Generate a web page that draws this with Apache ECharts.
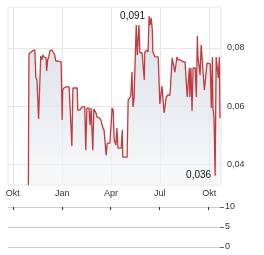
<!DOCTYPE html>
<html><head><meta charset="utf-8">
<script src="https://cdn.jsdelivr.net/npm/echarts@6/dist/echarts.min.js"></script>
<style>html,body{margin:0;padding:0;background:#fff}#c{width:264px;height:255px}</style>
</head><body><div id="c"></div>
<script>
const dates = ['2023-10-30','2023-10-31','2023-11-07','2023-11-11','2023-11-13','2023-11-15','2023-11-18','2023-11-20','2023-11-22','2023-11-24','2023-11-26','2023-11-28',
'2023-12-02','2023-12-03','2023-12-05','2023-12-07','2023-12-09','2023-12-13','2023-12-15','2023-12-18','2023-12-20','2023-12-24','2023-12-30',
'2024-01-01','2024-01-02','2024-01-04','2024-01-08','2024-01-14','2024-01-15','2024-01-17','2024-01-19','2024-01-21','2024-01-25','2024-01-29','2024-01-30',
'2024-02-03','2024-02-07','2024-02-12','2024-02-14','2024-02-16','2024-02-20','2024-02-22','2024-02-24','2024-02-27','2024-02-29',
'2024-03-04','2024-03-06','2024-03-10','2024-03-13','2024-03-15','2024-03-17','2024-03-19','2024-03-23','2024-03-25','2024-03-28','2024-03-30',
'2024-04-03','2024-04-05','2024-04-07','2024-04-10','2024-04-12','2024-04-14','2024-04-20','2024-04-22','2024-04-23','2024-04-27',
'2024-05-01','2024-05-03','2024-05-06','2024-05-08','2024-05-10','2024-05-12','2024-05-14','2024-05-18','2024-05-20','2024-05-23','2024-05-25','2024-05-29','2024-05-31',
'2024-06-02','2024-06-03','2024-06-07','2024-06-09','2024-06-11','2024-06-13','2024-06-15','2024-06-17','2024-06-18','2024-06-22','2024-06-28','2024-06-30',
'2024-07-01','2024-07-05','2024-07-09','2024-07-13','2024-07-16','2024-07-20','2024-07-24','2024-07-26','2024-07-29',
'2024-08-02','2024-08-04','2024-08-08','2024-08-13','2024-08-17','2024-08-19','2024-08-21','2024-08-23','2024-08-25','2024-08-26','2024-08-28','2024-08-30',
'2024-09-01','2024-09-05','2024-09-07','2024-09-09','2024-09-10','2024-09-12','2024-09-14','2024-09-16','2024-09-18','2024-09-20','2024-09-22','2024-09-25','2024-09-27','2024-09-29',
'2024-10-03','2024-10-05','2024-10-07','2024-10-08','2024-10-10','2024-10-12','2024-10-14','2024-10-16','2024-10-18','2024-10-20','2024-10-21'];
const prices = [0.0328,0.0779,0.0790,0.0793,0.0697,0.0690,0.0555,0.0555,0.0772,0.0759,0.0776,0.0769,
0.0766,0.0721,0.0759,0.0769,0.0790,0.0793,0.0786,0.0776,0.0755,0.0755,0.0752,
0.0552,0.0655,0.0662,0.0666,0.0666,0.0666,0.0672,0.0462,0.0662,0.0662,0.0662,0.0586,
0.0586,0.0597,0.0597,0.0448,0.0593,0.0593,0.0534,0.0593,0.0448,0.0590,
0.0576,0.0562,0.0559,0.0552,0.0538,0.0524,0.0517,0.0431,0.0472,0.0466,0.0472,
0.0593,0.0586,0.0483,0.0466,0.0524,0.0455,0.0455,0.0517,0.0424,0.0424,
0.0424,0.0621,0.0628,0.0638,0.0717,0.0597,0.0628,0.0879,0.0776,0.0879,0.0783,0.0783,0.0783,
0.0690,0.0786,0.0793,0.0786,0.0910,0.0879,0.0903,0.0862,0.0786,0.0769,0.0769,0.0766,
0.0607,0.0669,0.0576,0.0631,0.0638,0.0638,0.0766,0.0766,0.0717,
0.0769,0.0759,0.0759,0.0752,0.0752,0.0752,0.0631,0.0631,0.0731,0.0631,0.0731,0.0583,
0.0731,0.0731,0.0631,0.0841,0.0769,0.0741,0.0707,0.0810,0.0810,0.0707,0.0655,0.0655,0.0748,0.0748,
0.0745,0.0593,0.0769,0.0593,0.0559,0.0360,0.0769,0.0769,0.0697,0.0769,0.0559];
const tickDates = ['2023-10-01','2024-01-01','2024-04-01','2024-07-01','2024-10-01'];
const tickLabels = ['Okt','Jan','Apr','Jul','Okt'];
const priceTicks = [0.04,0.06,0.08];
const volumeTicks = [0,5,10];
const maxValue = 0.091, minValue = 0.036;

const P = d => echarts.number.parseDate(d).getTime();
const tickTs = tickDates.map(P);
const xMin = P('2023-09-22'), xMax = P('2024-10-23');
const fmt = v => String(v).replace('.', ',');
const labelFor = v => { const i = tickTs.indexOf(v); return i >= 0 ? tickLabels[i] : ''; };
const iMax = prices.indexOf(maxValue), iMin = prices.indexOf(minValue);
const font = 'Liberation Sans, Arial, sans-serif';

const chart = echarts.init(document.getElementById('c'), null, {renderer: 'canvas'});
chart.setOption({
  animation: false,
  grid: [
    {left: 8, right: 43, top: 7, height: 178, show: true, borderColor: '#e6e6e6', borderWidth: 1},
    {left: 8, right: 44, top: 207, height: 40}
  ],
  xAxis: [
    {type: 'value', gridIndex: 0, min: xMin, max: xMax,
     axisLine: {show: false}, axisTick: {show: false, customValues: tickTs},
     axisLabel: {customValues: tickTs, formatter: labelFor, fontSize: 9, color: '#333', margin: 4, fontFamily: font},
     splitLine: {show: true, lineStyle: {color: '#e6e6e6', width: 1}}},
    {type: 'value', gridIndex: 1, min: xMin, max: xMax, position: 'top',
     axisLine: {show: false, onZero: false}, axisTick: {show: true, inside: true, length: 3, customValues: tickTs, lineStyle: {color: '#333'}},
     axisLabel: {show: false}, splitLine: {show: false}}
  ],
  yAxis: [
    {type: 'value', gridIndex: 0, position: 'right', min: 0.0328, max: 0.0941,
     axisLine: {show: false}, axisTick: {show: false, customValues: priceTicks},
     axisLabel: {customValues: priceTicks, formatter: v => fmt(v.toFixed(2)), fontSize: 9, color: '#333', margin: 6, fontFamily: font},
     splitLine: {show: true, lineStyle: {color: '#e6e6e6', width: 1}}},
    {type: 'value', gridIndex: 1, position: 'right', min: 0, max: 10, interval: 5,
     axisLine: {show: false}, axisTick: {show: true, length: 4, customValues: volumeTicks, lineStyle: {color: '#666'}},
     axisLabel: {customValues: volumeTicks, fontSize: 9, color: '#333', margin: 5, fontFamily: font},
     splitLine: {show: true, lineStyle: {color: '#cccccc', width: 1}}}
  ],
  series: [
    {type: 'line', xAxisIndex: 0, yAxisIndex: 0, showSymbol: false, symbol: 'none',
     data: dates.map((d, i) => [P(d), prices[i]]),
     lineStyle: {color: '#c23a3e', width: 1.3},
     areaStyle: {origin: 'start', color: new echarts.graphic.LinearGradient(0, 0, 0, 1, [
       {offset: 0, color: '#c9d2dc'}, {offset: 1, color: '#f3f5f7'}])},
     markPoint: {symbol: 'circle', symbolSize: 0, silent: true,
       label: {show: true, position: 'left', distance: 4, fontSize: 10, color: '#111', fontFamily: font},
       data: [
         {coord: [P(dates[iMax]), maxValue], label: {formatter: fmt(maxValue)}},
         {coord: [P(dates[iMin]), minValue], label: {formatter: fmt(minValue)}}
       ]}},
    {type: 'bar', xAxisIndex: 1, yAxisIndex: 1, data: []}
  ]
});
</script></body></html>
